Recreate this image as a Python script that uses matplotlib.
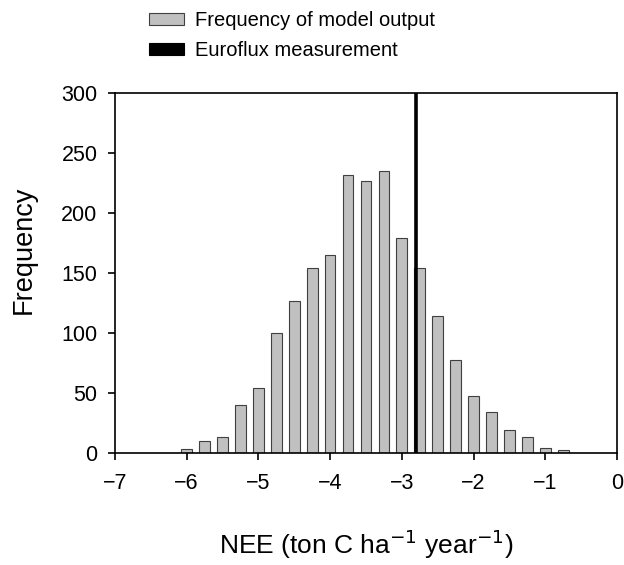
import matplotlib
matplotlib.use("Agg")
import matplotlib.pyplot as plt
from matplotlib.patches import Patch

plt.rcParams['font.family'] = ['Liberation Sans', 'DejaVu Sans']

bin_centers = [-6.0, -5.75, -5.5, -5.25, -5.0, -4.75, -4.5, -4.25, -4.0, -3.75, -3.5,
               -3.25, -3.0, -2.75, -2.5, -2.25, -2.0, -1.75, -1.5, -1.25, -1.0, -0.75]
frequencies = [3, 10, 13, 40, 54, 100, 126, 154, 165, 231, 226,
               235, 179, 154, 114, 77, 47, 34, 19, 13, 4, 2]
euroflux_nee = -2.8
x_ticks = [-7, -6, -5, -4, -3, -2, -1, 0]
y_ticks = [0, 50, 100, 150, 200, 250, 300]

fig = plt.figure(figsize=(6.24, 5.65), dpi=100)
ax = fig.add_axes([0.184, 0.199, 0.805, 0.637])

ax.bar(bin_centers, frequencies, width=0.15, color='#c0c0c0', edgecolor='#404040', linewidth=0.8, zorder=2)
ax.axvline(euroflux_nee, color='black', linewidth=2.6, zorder=3)

ax.set_xlim(-7, 0)
ax.set_ylim(0, 300)
ax.set_xticks(x_ticks)
ax.set_yticks(y_ticks)
ax.tick_params(direction='out', length=5, width=1.2, labelsize=15.5, colors='black')
ax.tick_params(axis='x', pad=9.5)
ax.tick_params(axis='y', pad=7.5)
for s in ax.spines.values():
    s.set_linewidth(1.2)

ax.set_ylabel('Frequency', fontsize=19.5)
ax.yaxis.set_label_coords(-0.155, 0.563)
ax.set_xlabel('NEE (ton C ha$^{-1}$ year$^{-1}$)', fontsize=19)
ax.xaxis.set_label_coords(0.5, -0.207)

handles = [Patch(facecolor='#c0c0c0', edgecolor='#404040', linewidth=0.8),
           Patch(facecolor='black', edgecolor='black', linewidth=0.8)]
labels = ['Frequency of model output', 'Euroflux measurement']
fig.legend(handles, labels, loc='upper left', bbox_to_anchor=(0.221, 1.0), frameon=False,
           fontsize=14.5, handlelength=1.75, handleheight=0.5, labelspacing=0.55,
           handletextpad=0.55, borderaxespad=0.15)

fig.savefig('out.png', dpi=100)
